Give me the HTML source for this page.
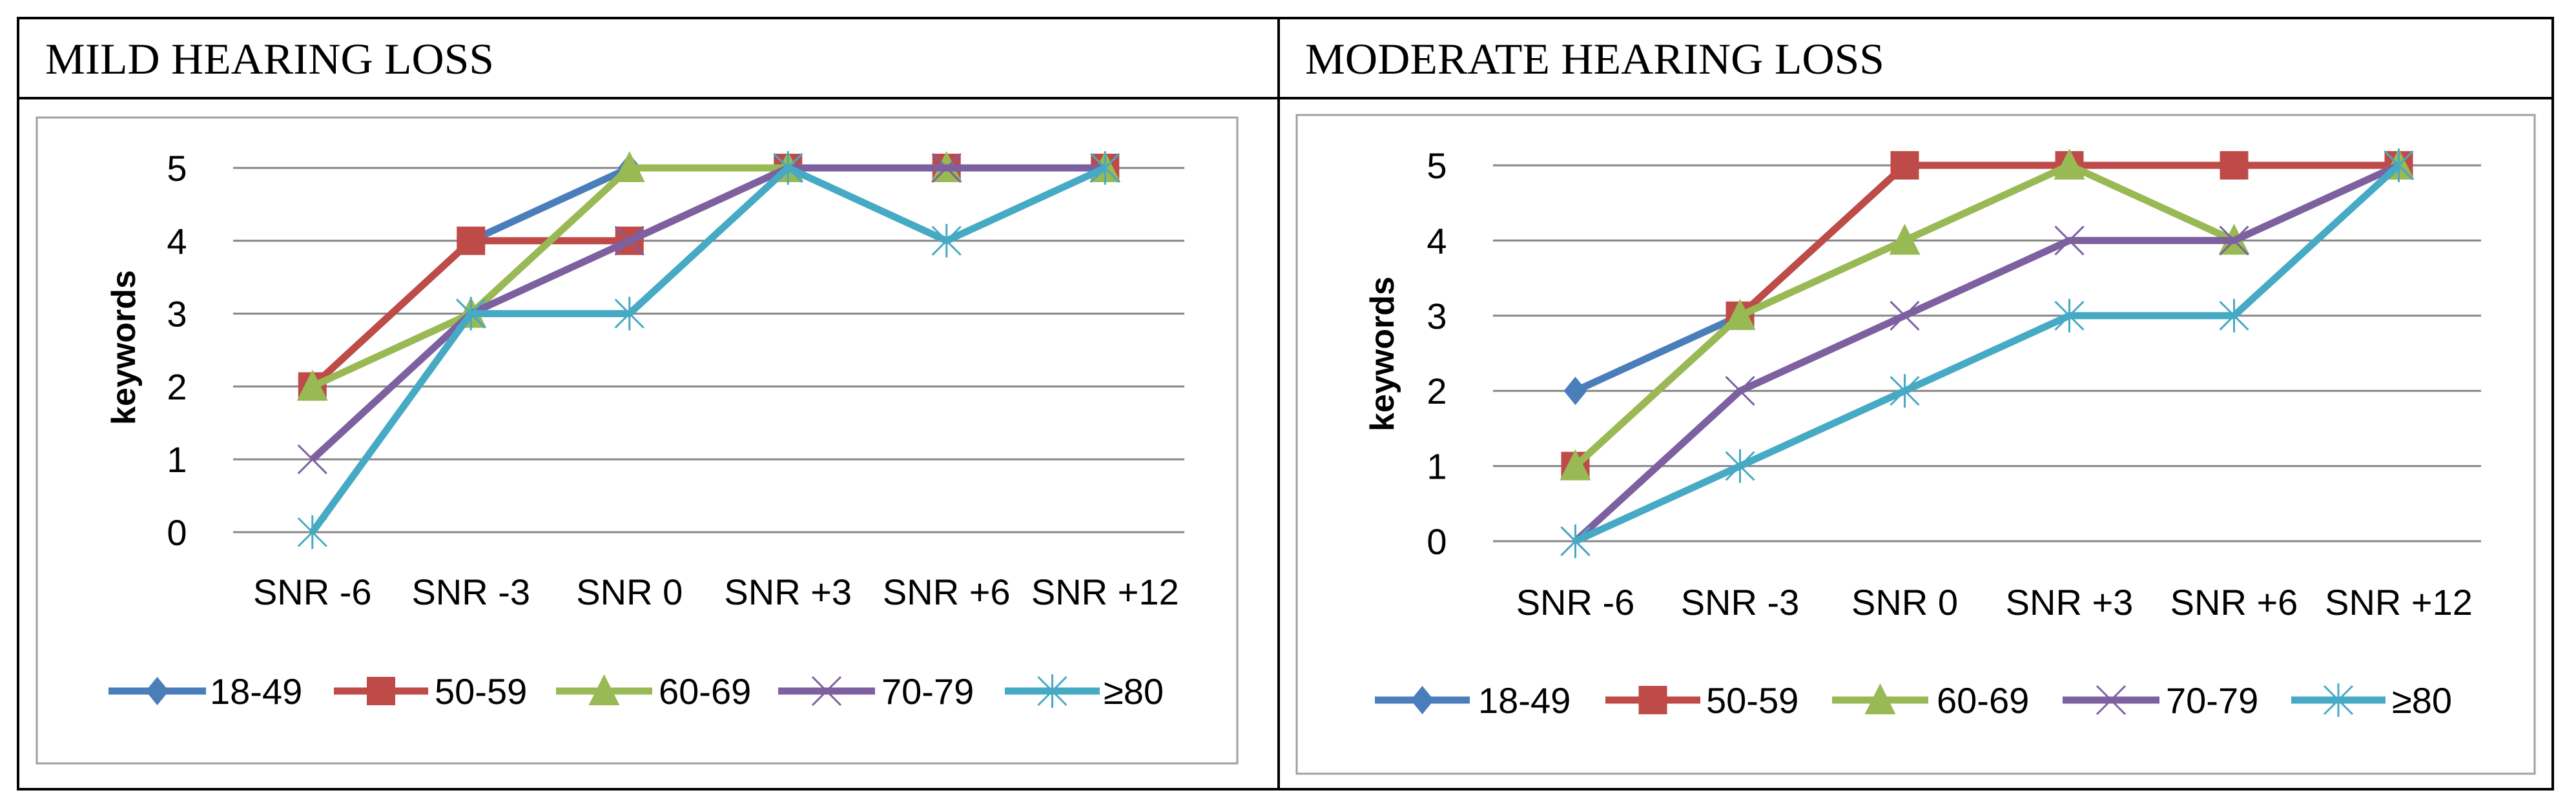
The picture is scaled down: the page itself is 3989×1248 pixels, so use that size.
<!DOCTYPE html>
<html><head><meta charset="utf-8"><style>
html,body{margin:0;padding:0;background:#fff;}
svg{display:block;}
</style></head><body>
<svg id="fig" width="3989" height="1248" viewBox="0 0 3989 1248" xmlns="http://www.w3.org/2000/svg">
<rect x="0" y="0" width="3989" height="1248" fill="#fff"/>
<g fill="none" stroke="#000" stroke-width="4">
<rect x="28" y="28" width="3925" height="1194"/>
<line x1="28" y1="152" x2="3953" y2="152"/>
<line x1="1980" y1="28" x2="1980" y2="1222"/>
</g>
<text x="70" y="114" font-family="Liberation Serif, serif" font-size="68" textLength="695" lengthAdjust="spacingAndGlyphs">MILD HEARING LOSS</text>
<text x="2021" y="114" font-family="Liberation Serif, serif" font-size="68" textLength="897" lengthAdjust="spacingAndGlyphs">MODERATE HEARING LOSS</text>
<rect x="57" y="182" width="1859" height="1000" fill="none" stroke="#a0a0a0" stroke-width="3"/>
<rect x="2008" y="178" width="1917" height="1020" fill="none" stroke="#a0a0a0" stroke-width="3"/>
<g id="mild"></g>
<g id="moderate"></g>
</svg>
<script>
const categories = ["SNR -6","SNR -3","SNR 0","SNR +3","SNR +6","SNR +12"];
const seriesNames = ["18-49","50-59","60-69","70-79","≥80"];
const yTicks = [0,1,2,3,4,5];
const mild1849 = [2,4,5,5,5,5];
const mild5059 = [2,4,4,5,5,5];
const mild6069 = [2,3,5,5,5,5];
const mild7079 = [1,3,4,5,5,5];
const mild80 = [0,3,3,5,4,5];
const mod1849 = [2,3,5,5,5,5];
const mod5059 = [1,3,5,5,5,5];
const mod6069 = [1,3,4,5,4,5];
const mod7079 = [0,2,3,4,4,5];
const mod80 = [0,1,2,3,3,5];

const NS = "http://www.w3.org/2000/svg";
const colors = ["#4a7ebb","#be4b48","#98b954","#7d60a0","#46aac5"];
const markers = ["diamond","square","triangle","x","star"];
const FONT = "'Liberation Sans Narrow','Liberation Sans',sans-serif";

function mk(parent, tag, attrs){
  const e = document.createElementNS(NS, tag);
  for (const k in attrs) e.setAttribute(k, attrs[k]);
  parent.appendChild(e);
  return e;
}
function drawMarker(g, type, cx, cy, col){
  const s = 22;
  let m;
  if (type==="diamond") m = mk(g,"polygon",{points:`${cx},${cy-s} ${cx+s-4},${cy} ${cx},${cy+s} ${cx-s+4},${cy}`,fill:col});
  else if (type==="square") m = mk(g,"rect",{x:cx-s,y:cy-s,width:2*s,height:2*s,fill:col});
  else if (type==="triangle") m = mk(g,"polygon",{points:`${cx},${cy-s-4} ${cx+s+2},${cy+s} ${cx-s-2},${cy+s}`,fill:col});
  else if (type==="x") m = mk(g,"path",{d:`M${cx-s},${cy-s}L${cx+s},${cy+s}M${cx+s},${cy-s}L${cx-s},${cy+s}`,stroke:col,"stroke-width":3,fill:"none"});
  else m = mk(g,"path",{d:`M${cx-s},${cy-s}L${cx+s},${cy+s}M${cx+s},${cy-s}L${cx-s},${cy+s}M${cx},${cy-s-4}L${cx},${cy+s+4}`,stroke:col,"stroke-width":3,fill:"none"});
  return m;
}
function drawChart(id, series, L){
  const g = document.getElementById(id);
  const bw = (L.x1-L.x0)/categories.length;
  const xs = i => L.x0 + bw*(i+0.5);
  const ys = v => L.y0 - (v/5)*(L.y0-L.y5);
  yTicks.forEach(t=>{
    const gl = mk(g,"line",{x1:L.x0,x2:L.x1,y1:ys(t),y2:ys(t),stroke:"#868686","stroke-width":3});
    
    
    const tl = mk(g,"text",{x:L.tickX,y:ys(t)+20,"text-anchor":"middle","font-family":FONT,"font-size":56});
    tl.textContent = t;
    
    
  });
  categories.forEach((c,i)=>{
    const xl = mk(g,"text",{x:xs(i),y:L.xlabY+20,"text-anchor":"middle","font-family":FONT,"font-size":56});
    xl.textContent = c;
    
    
  });
  const yt = mk(g,"text",{x:0,y:0,transform:`translate(${L.ylabX+18},${L.ylabY}) rotate(-90)`,"text-anchor":"middle","font-family":"'Liberation Sans',sans-serif","font-size":52,"font-weight":"bold"});
  yt.textContent = "keywords";
  
  
  series.forEach((vals,si)=>{
    const sg = mk(g,"g",{});
    
    
    const pl = mk(sg,"polyline",{points:vals.map((v,i)=>`${xs(i)},${ys(v)}`).join(" "),fill:"none",stroke:colors[si],"stroke-width":11,"stroke-linejoin":"round"});
    
    
    vals.forEach((v,i)=>{
      const m = drawMarker(sg, markers[si], xs(i), ys(v), colors[si]);
      
      
    });
  });
  seriesNames.forEach((n,si)=>{
    const lg = mk(g,"g",{});
    
    
    const [a,b,tx] = L.legend[si];
    mk(lg,"line",{x1:a,x2:b,y1:L.legY,y2:L.legY,stroke:colors[si],"stroke-width":11});
    drawMarker(lg, markers[si], (a+b)/2, L.legY, colors[si]);
    const t = mk(lg,"text",{x:tx,y:L.legY+20,"font-family":FONT,"font-size":56});
    t.textContent = n;
  });
}
drawChart("mild",[mild1849,mild5059,mild6069,mild7079,mild80],{
  x0:361,x1:1834,y0:824,y5:260,tickX:274,xlabY:916,ylabX:191,ylabY:538,legY:1070,
  legend:[[168,319,325],[517,663,673],[861,1010,1020],[1205,1355,1365],[1556,1703,1709]]
});
drawChart("moderate",[mod1849,mod5059,mod6069,mod7079,mod80],{
  x0:2312,x1:3842,y0:838,y5:256,tickX:2225,xlabY:932,ylabX:2140,ylabY:548,legY:1084,
  legend:[[2129,2276,2289],[2486,2633,2642],[2837,2986,2999],[3194,3344,3354],[3548,3694,3704]]
});
</script>
</body></html>
